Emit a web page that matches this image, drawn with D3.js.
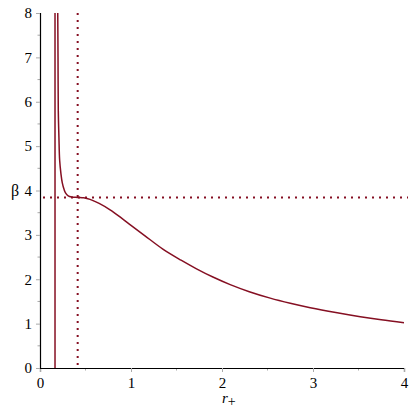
<!DOCTYPE html>
<html>
<head>
<meta charset="utf-8">
<script src="https://cdn.jsdelivr.net/npm/d3@7"></script>
<style>
  body { margin: 0; background: #fff; }
  svg text { font-family: "Liberation Serif", "DejaVu Serif", serif !important; }
</style>
</head>
<body>
<div id="chart"></div>
<script>
// beta vs r+ curve
var rVals    = [0.195, 0.198, 0.201, 0.208, 0.216, 0.23, 0.245, 0.265, 0.282, 0.31, 0.35, 0.414, 0.48, 0.55, 0.65, 0.77, 0.9, 1.0, 1.15, 1.35, 1.55, 1.72, 1.9, 2.09, 2.3, 2.53, 2.75, 2.97, 3.25, 3.52, 3.75, 4.0];
var betaVals = [8.0, 7.0, 5.8, 5.2, 4.68, 4.38, 4.17, 4.02, 3.94, 3.88, 3.855, 3.845, 3.835, 3.80, 3.71, 3.565, 3.37, 3.215, 2.985, 2.68, 2.43, 2.235, 2.05, 1.88, 1.72, 1.575, 1.46, 1.36, 1.25, 1.155, 1.085, 1.02];
var asymptoteR = 0.165;
var critR = 0.414;
var critBeta = 3.84;
var xTicks = [0, 1, 2, 3, 4];
var yTicks = [0, 1, 2, 3, 4, 5, 6, 7, 8];
var xMinor = [0.5, 1.5, 2.5, 3.5];
var yMinor = [0.5, 1.5, 2.5, 3.5, 4.5, 5.5, 6.5, 7.5];

var width = 415, height = 415;
var margin = {top: 13, right: 11, bottom: 47, left: 40};
var red = "#850f22";

var svg = d3.select("#chart").append("svg")
    .attr("width", width)
    .attr("height", height);

var x = d3.scaleLinear().domain([0, 4]).range([margin.left, width - margin.right]);
var y = d3.scaleLinear().domain([0, 8]).range([height - margin.bottom, margin.top]);

var data = rVals.map(function(r, i) { return {r: r, b: betaVals[i]}; });

// minor ticks
svg.selectAll(".xminor").data(xMinor).enter().append("line")
    .attr("x1", function(d) { return x(d); }).attr("x2", function(d) { return x(d); })
    .attr("y1", y(0)).attr("y2", y(0) + 2.5)
    .attr("stroke", "#aaa");
svg.selectAll(".yminor").data(yMinor).enter().append("line")
    .attr("y1", function(d) { return y(d); }).attr("y2", function(d) { return y(d); })
    .attr("x1", x(0) - 2.5).attr("x2", x(0))
    .attr("stroke", "#aaa");

// axes
var xAxis = svg.append("g")
    .attr("transform", "translate(0," + y(0) + ")")
    .call(d3.axisBottom(x).tickValues(xTicks).tickSize(4).tickPadding(5).tickFormat(d3.format("d")));
var yAxis = svg.append("g")
    .attr("transform", "translate(" + x(0) + ",0)")
    .call(d3.axisLeft(y).tickValues(yTicks).tickSize(4).tickPadding(4).tickFormat(d3.format("d")));

[xAxis, yAxis].forEach(function(g) {
    g.attr("font-size", 15);
    g.select(".domain").attr("stroke", "#000").attr("stroke-width", 1.2);
    g.selectAll(".tick line").attr("stroke", "#aaa");
    g.selectAll(".tick text").attr("fill", "#000");
});

// dotted critical lines
svg.append("line")
    .attr("x1", x(critR)).attr("x2", x(critR))
    .attr("y1", y(8)).attr("y2", y(0))
    .attr("stroke", red).attr("stroke-width", 2)
    .attr("stroke-dasharray", "2,5");
svg.append("line")
    .attr("x1", x(0) + 3).attr("x2", x(4) + 4)
    .attr("y1", y(critBeta)).attr("y2", y(critBeta))
    .attr("stroke", red).attr("stroke-width", 2)
    .attr("stroke-dasharray", "2,5");

// asymptote line
svg.append("line")
    .attr("x1", x(asymptoteR)).attr("x2", x(asymptoteR))
    .attr("y1", y(0)).attr("y2", y(8))
    .attr("stroke", red).attr("stroke-width", 1.5);

// curve
var line = d3.line()
    .x(function(d) { return x(d.r); })
    .y(function(d) { return y(d.b); })
    .curve(d3.curveCatmullRom.alpha(0.5));

svg.append("path")
    .datum(data)
    .attr("fill", "none")
    .attr("stroke", red)
    .attr("stroke-width", 1.5)
    .attr("d", line);

// labels
svg.append("text")
    .attr("x", 15).attr("y", y(4) + 5)
    .attr("text-anchor", "middle")
    .attr("font-size", 16)
    .text("β");

var xl = svg.append("text")
    .attr("x", 222).attr("y", 403)
    .attr("font-size", 15);
xl.append("tspan").attr("font-style", "italic").text("r");
xl.append("tspan").attr("dy", 3).attr("font-size", 14).text("+");
</script>
</body>
</html>
